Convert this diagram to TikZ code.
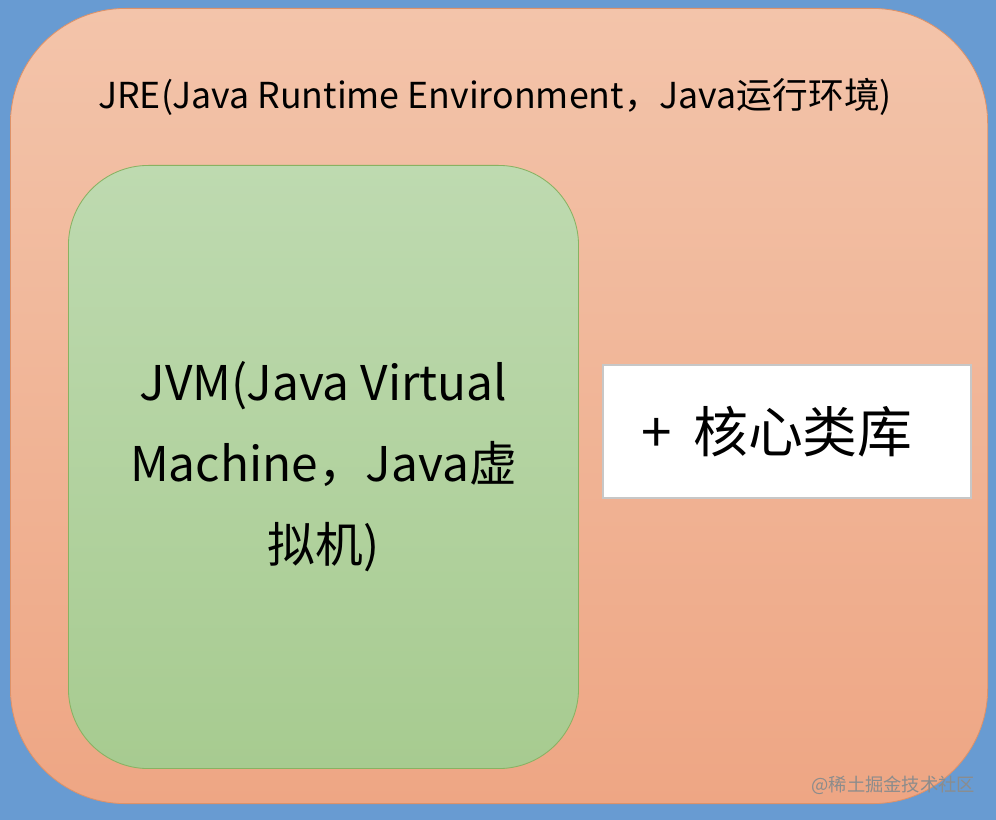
\documentclass[tikz,border=0pt]{standalone}
\usepackage{fontspec}
\setmainfont{Noto Sans CJK SC}
\usetikzlibrary{positioning}

\definecolor{bgblue}{RGB}{104,155,210}
\definecolor{jretop}{RGB}{243,196,170}
\definecolor{jrebot}{RGB}{238,166,132}
\definecolor{jreline}{RGB}{222,146,104}
\definecolor{jvmtop}{RGB}{190,218,176}
\definecolor{jvmbot}{RGB}{167,203,144}
\definecolor{jvmline}{RGB}{136,178,98}

\begin{document}
\begin{tikzpicture}[x=0.025cm, y=-0.025cm,
    box/.style = {anchor=north west, inner sep=0pt},
    jrebox/.style = {box, draw=jreline, line width=0.6pt, top color=jretop, bottom color=jrebot,
                     rounded corners=2.875cm, minimum width=24.425cm, minimum height=19.875cm},
    jvmbox/.style = {box, draw=jvmline, line width=0.6pt, top color=jvmtop, bottom color=jvmbot,
                     rounded corners=2cm, minimum width=12.75cm, minimum height=15.075cm,
                     align=center, font=\fontsize{34}{57.6}\selectfont},
    libbox/.style = {box, draw=black!22, line width=1.2pt, fill=white,
                     minimum width=9.2cm, minimum height=3.325cm,
                     font=\fontsize{39}{46}\selectfont}]
    \useasboundingbox (0,0) rectangle (996,820);
    \fill[bgblue] (0,0) rectangle (996,820);

    \node (jre) [jrebox] at (10,8) {};
    \node (jretitle) at (495,97) {\fontsize{25.4}{30}\selectfont JRE(Java Runtime Environment，Java运行环境)};
    \node (jvm) [jvmbox] at (68,165) {JVM(Java Virtual\\Machine，Java虚\\拟机)};
    \node (lib) [libbox] at (602,364) {\hspace*{-14pt}+\, 核心类库};
    \node (mark) [anchor=south east, text=black!45, font=\fontsize{13}{15}\selectfont] at (980,800) {@稀土掘金技术社区};
\end{tikzpicture}
\end{document}
